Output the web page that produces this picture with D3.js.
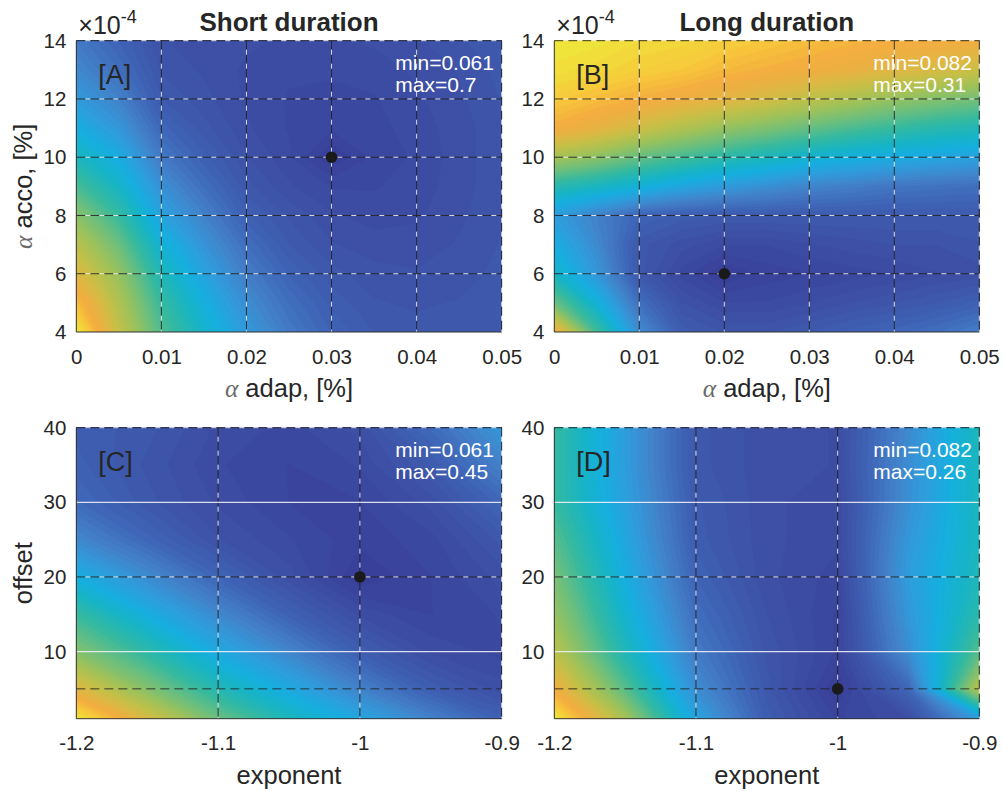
<!DOCTYPE html>
<html lang="en">
<head>
<meta charset="UTF-8">
<title>Short / long duration fits</title>
<script src="https://d3js.org/d3.v7.min.js"></script>
<style>
  body { margin: 0; background: #fff; }
  text { font-family: "Liberation Sans", Arial, sans-serif; }
</style>
</head>
<body>
<svg id="chart" width="1003" height="791"></svg>
<script>
// parameter grids
const adapX = [0, 0.005, 0.01, 0.015, 0.02, 0.025, 0.03, 0.035, 0.04, 0.045, 0.05];
const accoY = [4, 5, 6, 7, 8, 9, 10, 11, 12, 13, 14];          // x 1e-4 %
const expoX = [-1.2, -1.15, -1.1, -1.05, -1, -0.95, -0.9];
const offsY = [1, 5, 10, 15, 20, 25, 30, 35, 40];

// tick labels
const adapTicks = [0, 0.01, 0.02, 0.03, 0.04, 0.05];
const accoTicks = [4, 6, 8, 10, 12, 14];
const expoTicks = [-1.2, -1.1, -1, -0.9];
const offsTicks = [10, 20, 30, 40];

// error surfaces, one row per y value (bottom row first)
const shortAcc = [
  [0.700,0.534,0.406,0.323,0.246,0.189,0.150,0.131,0.125,0.125,0.131],
  [0.636,0.508,0.381,0.297,0.221,0.170,0.138,0.122,0.119,0.122,0.128],
  [0.572,0.476,0.349,0.265,0.195,0.150,0.125,0.115,0.112,0.115,0.125],
  [0.521,0.432,0.310,0.234,0.170,0.131,0.112,0.106,0.106,0.112,0.122],
  [0.464,0.381,0.265,0.202,0.144,0.119,0.103,0.096,0.099,0.109,0.119],
  [0.400,0.329,0.227,0.170,0.125,0.103,0.090,0.090,0.096,0.106,0.119],
  [0.342,0.285,0.189,0.144,0.112,0.093,0.061,0.083,0.093,0.106,0.119],
  [0.291,0.240,0.157,0.125,0.103,0.090,0.083,0.087,0.096,0.106,0.119],
  [0.246,0.202,0.131,0.115,0.099,0.090,0.087,0.090,0.099,0.109,0.122],
  [0.214,0.170,0.119,0.109,0.099,0.093,0.093,0.096,0.103,0.112,0.125],
  [0.189,0.150,0.112,0.106,0.103,0.099,0.099,0.103,0.109,0.119,0.131]
];
const longAcc = [
  [0.278,0.201,0.139,0.109,0.103,0.103,0.107,0.112,0.116,0.121,0.130],
  [0.214,0.169,0.121,0.100,0.093,0.093,0.096,0.100,0.103,0.107,0.112],
  [0.178,0.146,0.105,0.091,0.082,0.087,0.089,0.091,0.093,0.096,0.098],
  [0.164,0.137,0.105,0.098,0.093,0.093,0.096,0.098,0.100,0.100,0.103],
  [0.150,0.132,0.114,0.109,0.107,0.107,0.107,0.107,0.107,0.107,0.107],
  [0.189,0.180,0.169,0.157,0.148,0.141,0.134,0.130,0.125,0.123,0.121],
  [0.237,0.226,0.212,0.201,0.191,0.182,0.173,0.166,0.162,0.157,0.153],
  [0.278,0.269,0.255,0.242,0.230,0.221,0.212,0.203,0.196,0.189,0.185],
  [0.294,0.287,0.280,0.274,0.267,0.258,0.248,0.239,0.230,0.223,0.217],
  [0.305,0.301,0.296,0.292,0.285,0.280,0.276,0.271,0.264,0.260,0.253],
  [0.310,0.308,0.303,0.301,0.296,0.292,0.287,0.283,0.280,0.278,0.276]
];
const shortExp = [
  [0.450,0.364,0.287,0.232,0.189,0.147,0.112],
  [0.372,0.302,0.240,0.193,0.147,0.108,0.088],
  [0.302,0.248,0.193,0.150,0.108,0.084,0.077],
  [0.256,0.201,0.154,0.113,0.084,0.073,0.080],
  [0.201,0.158,0.117,0.088,0.061,0.073,0.088],
  [0.154,0.119,0.092,0.080,0.069,0.077,0.100],
  [0.123,0.100,0.084,0.073,0.073,0.088,0.119],
  [0.112,0.096,0.080,0.073,0.080,0.104,0.147],
  [0.108,0.100,0.084,0.077,0.088,0.123,0.170]
];
const longExp = [
  [0.260,0.203,0.139,0.103,0.087,0.093,0.135],
  [0.233,0.180,0.127,0.100,0.082,0.109,0.210],
  [0.210,0.162,0.118,0.098,0.087,0.127,0.180],
  [0.198,0.153,0.112,0.096,0.087,0.132,0.167],
  [0.189,0.146,0.107,0.094,0.089,0.135,0.162],
  [0.180,0.141,0.103,0.094,0.091,0.132,0.160],
  [0.171,0.137,0.102,0.094,0.091,0.128,0.160],
  [0.171,0.135,0.100,0.094,0.093,0.127,0.160],
  [0.171,0.135,0.100,0.094,0.093,0.125,0.162]
];

// parula-like colormap as it looks in the print
const cmapPos = [0, .08, .15, .22, .30, .36, .42, .50, .58, .66, .74, .80, .86, .92, 1];
const cmapCol = ['#393e98','#3d52a7','#3f66b8','#4382ca','#2e9edc','#17aee0','#17b4c6',
                 '#35b9a0','#6cbf7e','#9cc25c','#c4c048','#e0b744','#f4ac40','#f7c73c','#eee83a'];

const svg = d3.select('#chart');
const ink = '#262626';
const fmtMM = d3.format('.2~g');

// where d3.contours puts sample i in its own grid space
const probe = d3.contours().size([2, 1]).thresholds([0.5])([0, 1])[0];
const sampleOffset = d3.min(probe.coordinates[0][0], c => c[0]) - 0.5;

const dashedAB = { v: [0.01, 0.02, 0.03, 0.04], h: [[6,'both'],[8,'both'],[10,'both'],[12,'both']] };
const dashedCD = { v: [-1.1, -1], h: [[5,'dark'],[10,'white'],[20,'both'],[30,'white']] };

const panels = [
  { key:'A', z:shortAcc, xs:adapX, ys:accoY, xt:adapTicks, yt:accoTicks, grid:dashedAB,
    left:76.3, top:40.7, right:501.7, bottom:332, title:'Short duration', mult:true, xl:'adap', yl:'acco' },
  { key:'B', z:longAcc, xs:adapX, ys:accoY, xt:adapTicks, yt:accoTicks, grid:dashedAB,
    left:554.3, top:40.7, right:979.3, bottom:332, title:'Long duration', mult:true, xl:'adap', yl:null },
  { key:'C', z:shortExp, xs:expoX, ys:offsY, xt:expoTicks, yt:offsTicks, grid:dashedCD,
    left:76.3, top:427.7, right:501.7, bottom:718.7, title:null, mult:false, xl:'exponent', yl:'offset' },
  { key:'D', z:longExp, xs:expoX, ys:offsY, xt:expoTicks, yt:offsTicks, grid:dashedCD,
    left:554.3, top:427.7, right:979.3, bottom:718.7, title:null, mult:false, xl:'exponent', yl:null }
];

function gridLine(g, x1, y1, x2, y2, style) {
  if (style === 'white') {
    g.append('line').attr('x1', x1).attr('y1', y1).attr('x2', x2).attr('y2', y2)
      .attr('stroke', '#eef0f4').attr('stroke-width', 1.2).attr('opacity', 0.9);
    return;
  }
  g.append('line').attr('x1', x1).attr('y1', y1).attr('x2', x2).attr('y2', y2)
    .attr('stroke', '#222').attr('stroke-width', 1).attr('stroke-dasharray', '9,5').attr('opacity', 0.85);
  if (style === 'both') {
    g.append('line').attr('x1', x1).attr('y1', y1).attr('x2', x2).attr('y2', y2)
      .attr('stroke', '#f2f2f2').attr('stroke-width', 1).attr('stroke-dasharray', '5,9')
      .attr('stroke-dashoffset', 5).attr('opacity', 0.85);
  }
}

function alphaLabel(sel, word) {
  sel.append('tspan').attr('font-family', '"Liberation Serif", "DejaVu Serif", serif')
    .attr('font-style', 'italic').attr('fill', '#6a6a6a').text('\u03b1');
  sel.append('tspan').text(' ' + word + ', [%]');
}

panels.forEach(p => {
  const g = svg.append('g');
  const x = d3.scaleLinear().domain([p.xs[0], p.xs[p.xs.length - 1]]).range([p.left, p.right]);
  const y = d3.scaleLinear().domain([p.ys[0], p.ys[p.ys.length - 1]]).range([p.bottom, p.top]);
  const n = p.xs.length, m = p.ys.length;
  const flat = p.z.flat();
  const lo = d3.min(flat), hi = d3.max(flat);

  const color = d3.scaleLinear().domain(cmapPos.map(t => lo + t * (hi - lo))).range(cmapCol)
    .interpolate(d3.interpolateRgb).clamp(true);

  // contour grid space -> pixel
  const gx = d3.scaleLinear().domain(p.xs.map((_, i) => i + sampleOffset)).range(p.xs.map(x));
  const gy = d3.scaleLinear().domain(p.ys.map((_, j) => j + sampleOffset)).range(p.ys.map(y));
  const path = d3.geoPath(d3.geoTransform({ point(a, b) { this.stream.point(gx(a), gy(b)); } }));

  const nLev = 64, step = (hi - lo) / nLev;
  const levels = d3.range(nLev).map(k => lo + k * step);
  const bands = d3.contours().size([n, m]).thresholds(levels)(flat);

  const clipId = 'clip' + p.key;
  svg.append('clipPath').attr('id', clipId).append('rect')
    .attr('x', p.left).attr('y', p.top).attr('width', p.right - p.left).attr('height', p.bottom - p.top);

  const field = g.append('g').attr('clip-path', `url(#${clipId})`);
  field.append('rect').attr('x', p.left).attr('y', p.top)
    .attr('width', p.right - p.left).attr('height', p.bottom - p.top).attr('fill', color(lo));
  field.selectAll('path').data(bands).enter().append('path')
    .attr('d', path)
    .attr('fill', d => color(d.value + step / 2))
    .attr('stroke', d => color(d.value + step / 2)).attr('stroke-width', 0.4);

  // grid lines
  p.grid.v.forEach(v => gridLine(g, x(v), p.top, x(v), p.bottom, 'both'));
  p.grid.h.forEach(([v, s]) => gridLine(g, p.left, y(v), p.right, y(v), s));
  gridLine(g, p.left, p.top, p.right, p.top, 'both');
  gridLine(g, p.right, p.top, p.right, p.bottom, 'both');
  g.append('line').attr('x1', p.left).attr('y1', p.top).attr('x2', p.left).attr('y2', p.bottom)
    .attr('stroke', '#333').attr('stroke-width', 1);
  g.append('line').attr('x1', p.left).attr('y1', p.bottom).attr('x2', p.right).attr('y2', p.bottom)
    .attr('stroke', '#333').attr('stroke-width', 1);

  // best fit marker at the grid minimum
  const im = d3.minIndex(flat);
  g.append('circle').attr('cx', x(p.xs[im % n])).attr('cy', y(p.ys[Math.floor(im / n)]))
    .attr('r', 5.8).attr('fill', '#1a1a1a');

  // axes
  const ax = g.append('g').attr('transform', `translate(0,${p.bottom})`)
    .call(d3.axisBottom(x).tickValues(p.xt).tickFormat(String).tickSize(0).tickPadding(17));
  const ay = g.append('g').attr('transform', `translate(${p.left},0)`)
    .call(d3.axisLeft(y).tickValues(p.yt).tickFormat(String).tickSize(0).tickPadding(10));
  [ax, ay].forEach(a => {
    a.select('.domain').remove();
    a.attr('font-family', '"Liberation Sans", Arial, sans-serif').attr('font-size', 20.5).attr('color', ink);
  });

  const cx = (p.left + p.right) / 2, cy = (p.top + p.bottom) / 2;
  const xl = g.append('text').attr('x', cx).attr('y', p.bottom + 65).attr('text-anchor', 'middle')
    .attr('font-size', 25.5).attr('fill', ink);
  if (p.xl === 'exponent') xl.text('exponent'); else alphaLabel(xl, p.xl);

  if (p.yl) {
    const yl = g.append('text').attr('x', p.left - 44).attr('y', cy).attr('text-anchor', 'middle')
      .attr('transform', `rotate(-90,${p.left - 44},${cy})`).attr('font-size', 25.5).attr('fill', ink);
    if (p.yl === 'offset') yl.text('offset'); else alphaLabel(yl, p.yl);
  }

  if (p.title) {
    g.append('text').attr('x', cx).attr('y', p.top - 10).attr('text-anchor', 'middle')
      .attr('font-size', 26).attr('font-weight', 'bold').attr('fill', ink).text(p.title);
  }
  if (p.mult) {
    const t = g.append('text').attr('x', p.left + 2).attr('y', p.top - 7).attr('font-size', 25).attr('fill', ink);
    t.append('tspan').text('\u00d710');
    t.append('tspan').attr('font-size', 18).attr('dy', -11).text('-4');
  }

  g.append('text').attr('x', p.left + 22).attr('y', p.top + 43).attr('font-size', 27).attr('fill', ink)
    .text('[' + p.key + ']');
  g.append('text').attr('x', p.left + 319).attr('y', p.top + 29).attr('font-size', 21).attr('fill', '#fff')
    .text('min=' + fmtMM(lo));
  g.append('text').attr('x', p.left + 319).attr('y', p.top + 51).attr('font-size', 21).attr('fill', '#fff')
    .text('max=' + fmtMM(hi));
});
</script>
</body>
</html>
